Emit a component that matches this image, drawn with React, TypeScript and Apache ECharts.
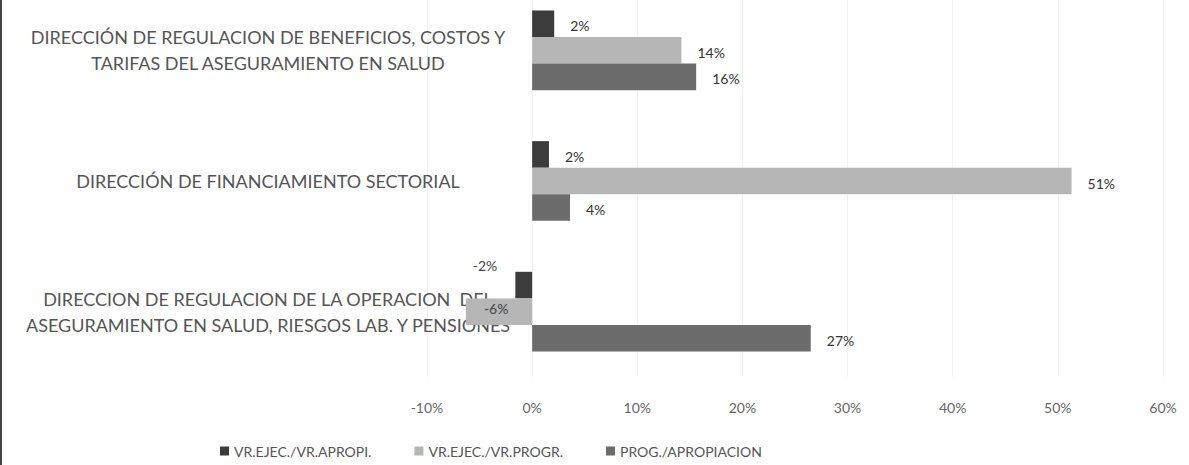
import React, { useEffect, useRef } from "react";
import * as echarts from "echarts";

const categories = [
  "DIRECCIÓN DE REGULACION DE BENEFICIOS, COSTOS Y\nTARIFAS DEL ASEGURAMIENTO EN SALUD",
  "DIRECCIÓN DE FINANCIAMIENTO SECTORIAL",
  "DIRECCION DE REGULACION DE LA OPERACION  DEL\nASEGURAMIENTO EN SALUD, RIESGOS LAB. Y PENSIONES",
];
const seriesNames = ["VR.EJEC./VR.APROPI.", "VR.EJEC./VR.PROGR.", "PROG./APROPIACION"];
const ejecApropi = [2.1, 1.6, -1.6];
const ejecProgr = [14.2, 51.3, -6.3];
const progApropiacion = [15.6, 3.6, 26.5];
const xTicks = { min: -10, max: 60, interval: 10 };

const colors = ["#3c3c3c", "#b6b6b6", "#6c6c6c"];
const FONT = "Lato";

export default function App() {
  const ref = useRef<HTMLDivElement>(null);
  useEffect(() => {
    const chart = echarts.init(ref.current!, null, { renderer: "svg" });
    const labelBase = {
      show: true,
      position: "right" as const,
      distance: 16,
      color: "#333",
      fontFamily: FONT,
      fontSize: 14,
      formatter: (p: any) => Math.round(p.value) + "%",
    };
    const mk = (name: string, data: number[], color: string, negLabels: any[]) => ({
      name,
      type: "bar",
      data: data.map((v, i) => (v < 0 ? { value: v, label: negLabels[i] } : v)),
      itemStyle: { color },
      barGap: "0%",
      barCategoryGap: "39%",
      label: { ...labelBase, offset: [0, 2] },
    });
    chart.setOption({
      animation: false,
      color: colors,
      textStyle: { fontFamily: FONT },
      grid: { left: 427, right: 26, top: -15, bottom: 88, outerBoundsMode: "none", containLabel: false },
      legend: {
        left: 215,
        top: 439,
        itemWidth: 9,
        itemHeight: 9,
        itemGap: 43,
        icon: "rect",
        textStyle: { fontFamily: FONT, fontSize: 14, color: "#555" },
        data: seriesNames,
      },
      xAxis: {
        type: "value",
        min: xTicks.min,
        max: xTicks.max,
        interval: xTicks.interval,
        axisLine: { show: false },
        axisTick: { show: false },
        splitLine: { show: true, lineStyle: { color: "#f2f2f2" } },
        axisLabel: {
          formatter: "{value}%",
          margin: 23,
          color: "#666",
          fontFamily: FONT,
          fontSize: 14,
        },
      },
      yAxis: {
        type: "category",
        inverse: true,
        data: categories,
        axisLine: { show: false },
        axisTick: { show: false },
        axisLabel: {
          align: "center",
          margin: 159,
          color: "#555",
          fontFamily: FONT,
          fontSize: 18,
          lineHeight: 26,
        },
      },
      graphic: [
        { type: "rect", left: 0, top: 0, shape: { width: 2, height: 465 }, style: { fill: "#444" } },
      ],
      series: [
        mk(seriesNames[0], ejecApropi, colors[0], [null, null, { position: "left", distance: 18, offset: [0, -20], color: "#444", fontFamily: FONT, fontSize: 14 }]),
        mk(seriesNames[1], ejecProgr, colors[1], [null, null, { position: "insideLeft", distance: 18, offset: [0, -3], color: "#444", fontFamily: FONT, fontSize: 14 }]),
        mk(seriesNames[2], progApropiacion, colors[2], [null, null, null]),
      ],
    });
    return () => chart.dispose();
  }, []);
  return (
    <div
      ref={ref}
      style={{ position: "absolute", left: 0, top: 0, width: 1189, height: 465, background: "#fff" }}
    />
  );
}
